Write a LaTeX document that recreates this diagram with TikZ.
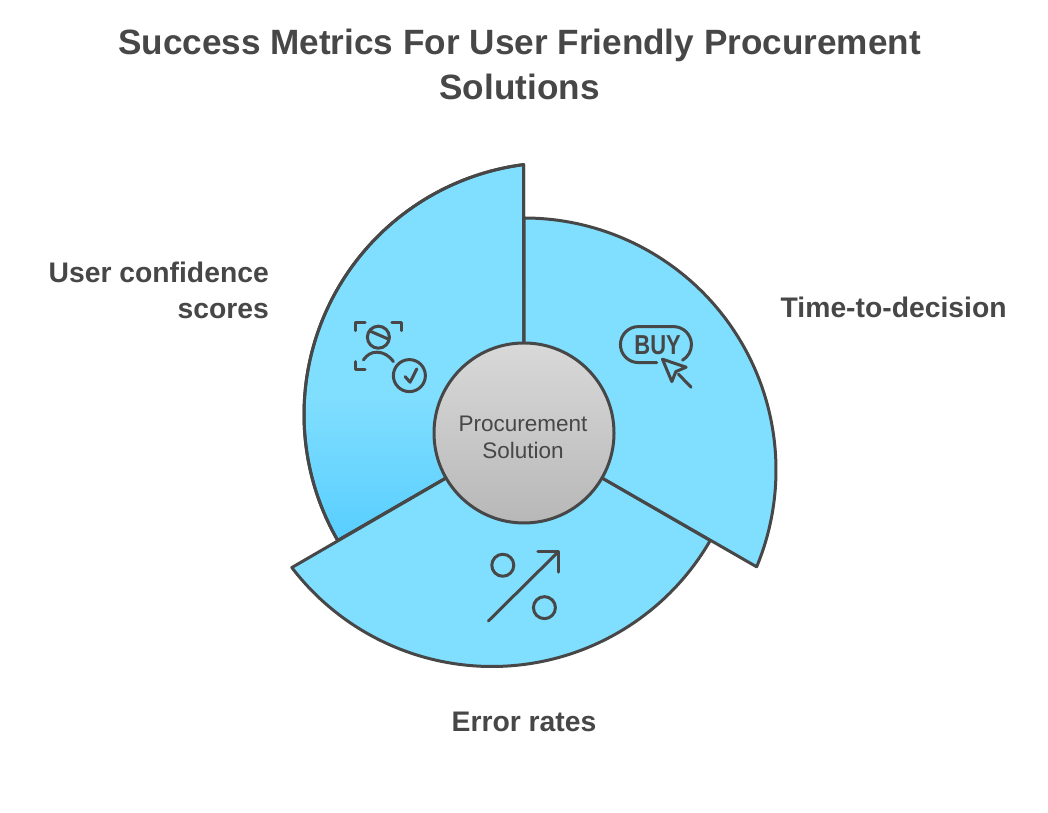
\documentclass[tikz,border=0pt]{standalone}
\usepackage{fontspec}
\setmainfont{Liberation Sans}
\usetikzlibrary{calc}

\definecolor{ink}{HTML}{474747}
\definecolor{wedgeblue}{HTML}{80DEFF}
\definecolor{wedgedeep}{HTML}{58CEFF}
\pgfdeclareverticalshading{leftfade}{100bp}{color(0bp)=(wedgedeep); color(25bp)=(wedgedeep); color(44bp)=(wedgeblue); color(100bp)=(wedgeblue)}

\tikzset{
  wedge/.style={draw=ink, line width=0.06cm, line join=round, fill=wedgeblue},
  icon/.style={draw=ink, line width=0.06cm, line cap=round, line join=round},
  metric/.style={text=ink, font=\bfseries\fontsize{16.1}{20.4}\selectfont}
}

\begin{document}
\begin{tikzpicture}
      \useasboundingbox (0, 0) rectangle (20.96, 16.26);
      \coordinate (ctr) at (10.48, 7.6);

      \node[text=ink, align=center, font=\bfseries\fontsize{20}{25.5}\selectfont] (heading) at (10.39, 14.97)
        {Success Metrics For User Friendly Procurement\\Solutions};

      \path[wedge, shading=leftfade] (ctr) -- ($(ctr)+(0.64, 0.37)+(97.4:5.04)$) arc[start angle=97.4, end angle=210, radius=5.04] -- cycle;
      \draw[wedge, fill=none] (ctr) -- ($(ctr)+(0.64, 0.37)+(97.4:5.04)$) arc[start angle=97.4, end angle=210, radius=5.04] -- cycle;
      \draw[wedge] (ctr) -- ($(ctr)+(-0.64, 0.37)+(-30:5.04)$) arc[start angle=-30, end angle=-142.6, radius=5.04] -- cycle;
      \draw[wedge] (ctr) -- ($(ctr)+(0, -0.74)+(90:5.04)$) arc[start angle=90, end angle=-22.6, radius=5.04] -- cycle;

      \node[circle, draw=ink, line width=0.06cm, minimum size=3.6cm, top color=black!15, bottom color=black!28] (hub) at (ctr) {};
      \node[align=center, text=ink, font=\fontsize{12.8}{15.3}\selectfont] (solution) at ($(ctr)+(-0.02, -0.08)$) {Procurement\\Solution};

      \node[metric, anchor=east, align=right] (confidence) at (5.5, 10.46) {User confidence\\scores};
      \node[metric, anchor=west] (decision) at (15.49, 10.12) {Time-to-decision};
      \node[metric] (errors) at (10.48, 1.83) {Error rates};

      \begin{scope}[x=0.02cm, y=-0.02cm, shift={(0, -813)}]
        % person with check
        \draw[icon] (355.7, 330.7) -- (355.7, 322.3) -- (365, 322.3);
        \draw[icon] (391.7, 322.3) -- (401, 322.3) -- (401, 330.7);
        \draw[icon] (355.7, 361.7) -- (355.7, 369.3) -- (365, 369.3);
        \draw[icon] (378.3, 337.3) circle[radius=11];
        \draw[icon] (369.5, 331) -- (389, 339.5);
        \draw[icon] (363.3, 360) .. controls (367, 355) and (371, 352.3) .. (376.7, 352.3) .. controls (383, 352.3) and (389, 355.5) .. (393.3, 361.7);
        \draw[icon] (409.3, 375.7) circle[radius=16];
        \draw[icon] (405, 376.7) -- (410, 382.3) -- (416.7, 369);

        % buy button
        \draw[icon] (656.7, 362.7) -- (638.3, 362.7) arc[start angle=90, end angle=270, radius=18] -- (673.3, 326.7) arc[start angle=-90, end angle=60, radius=18];
        \node[text=ink, inner sep=0pt, xscale=0.8, font=\bfseries\fontsize{15.6}{16}\selectfont] (buy) at (657.5, 345) {BUY};
        \draw[icon] (662.3, 359.3) -- (671.7, 381.7) -- (675.7, 371.7) -- (686, 367.3) -- cycle;
        \draw[icon] (678.3, 374.3) -- (691, 387.3);

        % percent arrow
        \draw[icon] (502.7, 565.3) circle[radius=11];
        \draw[icon] (544.3, 607.7) circle[radius=11];
        \draw[icon] (488.3, 621) -- (558.3, 551.7);
        \draw[icon] (537.7, 551.7) -- (558.3, 551.7) -- (558.3, 572.3);
      \end{scope}
    \end{tikzpicture}
\end{document}
